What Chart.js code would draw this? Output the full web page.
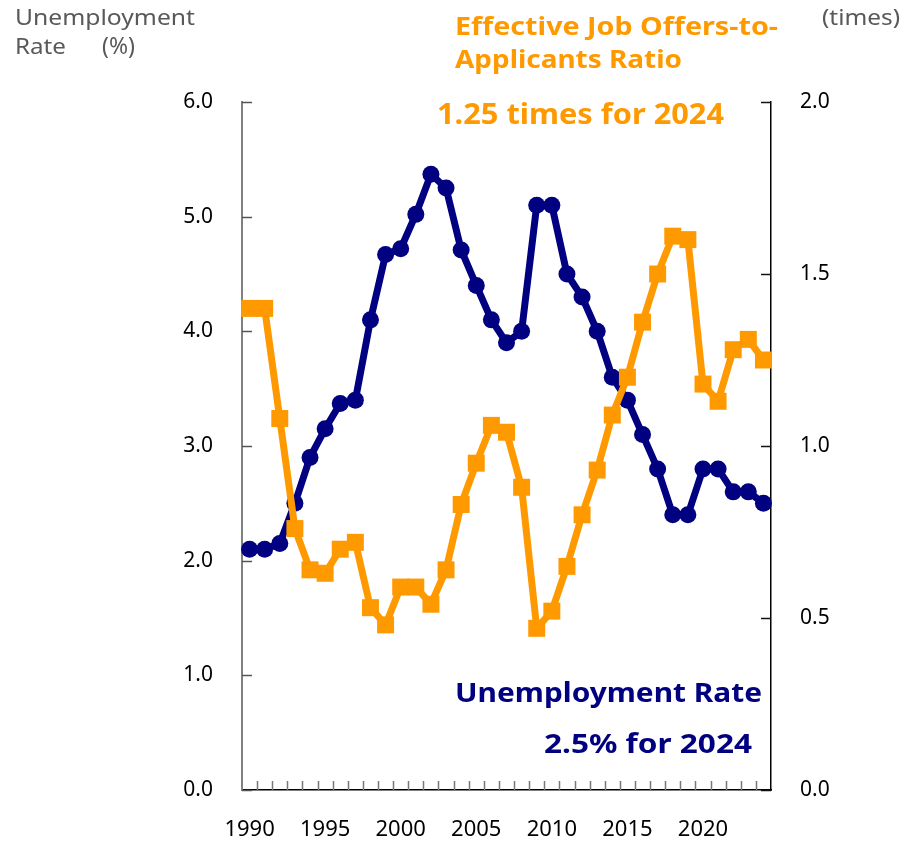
<!DOCTYPE html>
<html>
<head>
<meta charset="utf-8">
<script src="https://cdn.jsdelivr.net/npm/chart.js@4/dist/chart.umd.min.js"></script>
<style>
  html, body { margin: 0; padding: 0; background: #fff; }
  canvas { display: block; }
</style>
</head>
<body>
<canvas id="c" width="906" height="845"></canvas>
<script>
// Years on the horizontal axis
const years = [
  1990, 1991, 1992, 1993, 1994, 1995, 1996, 1997, 1998, 1999,
  2000, 2001, 2002, 2003, 2004, 2005, 2006, 2007, 2008, 2009,
  2010, 2011, 2012, 2013, 2014, 2015, 2016, 2017, 2018, 2019,
  2020, 2021, 2022, 2023, 2024
];

// Unemployment rate (%), left axis
const unemploymentRate = [
  2.1, 2.1, 2.15, 2.5, 2.9, 3.15, 3.37, 3.4, 4.1, 4.67,
  4.72, 5.02, 5.37, 5.25, 4.71, 4.4, 4.1, 3.9, 4.0, 5.1,
  5.1, 4.5, 4.3, 4.0, 3.6, 3.4, 3.1, 2.8, 2.4, 2.4,
  2.8, 2.8, 2.6, 2.6, 2.5
];

// Effective job offers-to-applicants ratio (times), right axis
const offersRatio = [
  1.40, 1.40, 1.08, 0.76, 0.64, 0.63, 0.70, 0.72, 0.53, 0.48,
  0.59, 0.59, 0.54, 0.64, 0.83, 0.95, 1.06, 1.04, 0.88, 0.47,
  0.52, 0.65, 0.80, 0.93, 1.09, 1.20, 1.36, 1.50, 1.61, 1.60,
  1.18, 1.13, 1.28, 1.31, 1.25
];

// Tick values for both vertical axes
const leftTicks = [0, 1, 2, 3, 4, 5, 6];
const rightTicks = [0, 0.5, 1.0, 1.5, 2.0];

const NAVY = '#000080';
const ORANGE = '#FF9900';
const FONT = '"Noto Sans", "DejaVu Sans", sans-serif';

// Short inward tick marks on all three axes
const innerTicks = {
  id: 'innerTicks',
  afterDatasetsDraw(chart) {
    const { ctx, chartArea: a, scales } = chart;
    ctx.save();
    ctx.lineWidth = 1.5;
    ctx.strokeStyle = '#555';
    leftTicks.forEach(v => {
      const y = Math.round(scales.y.getPixelForValue(v)) + 0.5;
      ctx.beginPath(); ctx.moveTo(a.left, y); ctx.lineTo(a.left + 10, y); ctx.stroke();
    });
    ctx.strokeStyle = '#111';
    rightTicks.forEach(v => {
      const y = Math.round(scales.y1.getPixelForValue(v)) + 0.5;
      ctx.beginPath(); ctx.moveTo(a.right, y); ctx.lineTo(a.right - 10, y); ctx.stroke();
    });
    ctx.strokeStyle = '#777';
    const x = scales.x;
    for (let i = 1; i < years.length; i++) {
      const px = Math.round((x.getPixelForValue(i - 1) + x.getPixelForValue(i)) / 2) + 0.5;
      ctx.beginPath(); ctx.moveTo(px, a.bottom); ctx.lineTo(px, a.bottom - 9); ctx.stroke();
    }
    ctx.restore();
  }
};

// Draw text starting at x (left-aligned) stretched horizontally to span the given width
function fillSpan(ctx, text, x, y, width) {
  const w = ctx.measureText(text).width;
  ctx.save();
  ctx.translate(x, y);
  ctx.scale(width / w, 1);
  ctx.textAlign = 'left';
  ctx.fillText(text, 0, 0);
  ctx.restore();
}

// Axis titles and series captions
const captions = {
  id: 'captions',
  afterDraw(chart) {
    const ctx = chart.ctx;
    ctx.save();
    ctx.textBaseline = 'middle';
    ctx.fillStyle = '#595959';
    ctx.font = '22px ' + FONT;
    fillSpan(ctx, 'Unemployment', 15, 19, 180);
    fillSpan(ctx, 'Rate', 15, 48, 51);
    fillSpan(ctx, '(times)', 822, 19, 78);
    ctx.font = '23px ' + FONT;
    ctx.textAlign = 'left';
    ctx.fillText('(%)', 102, 47);

    ctx.fillStyle = ORANGE;
    ctx.font = 'bold 25px ' + FONT;
    fillSpan(ctx, 'Effective Job Offers-to-', 455, 28, 323);
    fillSpan(ctx, 'Applicants Ratio', 455, 61, 227);
    ctx.font = 'bold 29px ' + FONT;
    fillSpan(ctx, '1.25 times for 2024', 437, 116, 287);

    ctx.fillStyle = NAVY;
    ctx.font = 'bold 27px ' + FONT;
    fillSpan(ctx, 'Unemployment Rate', 455, 694, 307);
    fillSpan(ctx, '2.5% for 2024', 544, 745, 208);
    ctx.restore();
  }
};

new Chart(document.getElementById('c'), {
  type: 'line',
  data: {
    labels: years,
    datasets: [
      {
        label: 'Effective Job Offers-to-Applicants Ratio',
        data: offersRatio,
        yAxisID: 'y1',
        borderColor: ORANGE,
        backgroundColor: ORANGE,
        borderWidth: 7,
        pointStyle: 'rect',
        pointRadius: 12,
        pointBorderWidth: 0,
        tension: 0,
        order: 0
      },
      {
        label: 'Unemployment Rate',
        data: unemploymentRate,
        yAxisID: 'y',
        borderColor: NAVY,
        backgroundColor: NAVY,
        borderWidth: 7,
        pointStyle: 'circle',
        pointRadius: 8.5,
        pointBorderWidth: 0,
        tension: 0,
        order: 1
      }
    ]
  },
  options: {
    responsive: false,
    animation: false,
    devicePixelRatio: 1,
    layout: { padding: { top: 102, left: 0, right: 0, bottom: 0 } },
    plugins: {
      legend: { display: false },
      tooltip: { enabled: false }
    },
    scales: {
      x: {
        type: 'category',
        offset: true,
        grid: { display: false, drawTicks: false, offset: true },
        border: { display: true, color: '#000', width: 1.5 },
        ticks: {
          autoSkip: false,
          maxRotation: 0,
          padding: 27,
          color: '#000',
          font: { family: FONT, size: 22 },
          callback(value, index) {
            const yr = years[index];
            return yr % 5 === 0 ? String(yr) : '';
          }
        },
        afterFit(scale) { scale.height = 55; }
      },
      y: {
        position: 'left',
        min: 0,
        max: 6,
        grid: { display: false, drawTicks: false },
        border: { display: true, color: '#808080', width: 2 },
        ticks: {
          stepSize: 1,
          padding: 29,
          color: '#000',
          font: { family: FONT, size: 21 },
          callback: v => Number(v).toFixed(1)
        },
        afterFit(scale) { scale.width = 242; }
      },
      y1: {
        position: 'right',
        min: 0,
        max: 2,
        grid: { display: false, drawTicks: false },
        border: { display: true, color: '#000', width: 1.5 },
        ticks: {
          stepSize: 0.5,
          padding: 29,
          color: '#000',
          font: { family: FONT, size: 21 },
          callback: v => Number(v).toFixed(1)
        },
        afterFit(scale) { scale.width = 906 - 771; }
      }
    }
  },
  plugins: [innerTicks, captions]
});
</script>
</body>
</html>
